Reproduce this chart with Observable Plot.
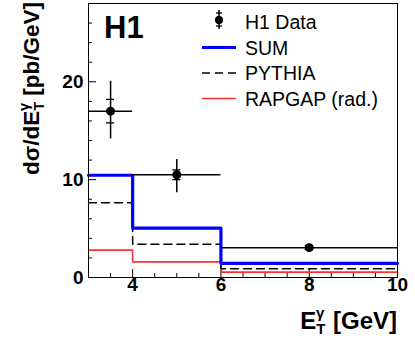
<!DOCTYPE html>
<html><head><meta charset="utf-8">
<script src="https://cdn.jsdelivr.net/npm/d3@7"></script>
<script src="https://cdn.jsdelivr.net/npm/@observablehq/plot@0.6"></script>
<style>
body{margin:0;background:#fff;}
#chart{width:415px;height:340px;}
</style></head><body><div id="chart"></div>
<script>
// ---- data ----
const binEdges = [3, 4, 6, 10];
const dataX = [3.5, 5, 8];
const dataXlo = [3, 4, 6];
const dataXhi = [4, 6, 10];
const dataY = [17.0, 10.5, 3.05];
const statErr = [1.2, 0.5, 0.2];
const totErrUp = [3.05, 1.55, 0.35];
const totErrDown = [2.85, 1.85, 0.35];
const sumVals = [10.45, 5.05, 1.45];
const pythiaVals = [7.65, 3.4, 0.9];
const rapgapVals = [2.8, 1.6, 0.55];
const yMajorTicks = [0, 10, 20];
const yMinorTicks = [2, 4, 6, 8, 12, 14, 16, 18, 22, 24, 26];
const xMajorTicks = [4, 6, 8, 10];
const xMinorTicks = [3.5, 4.5, 5, 5.5, 6.5, 7, 7.5, 8.5, 9, 9.5];
const legendLabels = ["H1 Data", "SUM", "PYTHIA", "RAPGAP (rad.)"];

const points = dataX.map((x, i) => ({x, y: dataY[i], xlo: dataXlo[i], xhi: dataXhi[i],
  stat: statErr[i], up: totErrUp[i], dn: totErrDown[i]}));
const steps = vals => binEdges.map((e, i) => ({x: e, y: vals[Math.min(i, vals.length - 1)]}));

const FONT = '"Liberation Sans", Arial, Helvetica, sans-serif';
const W = 415, H = 340, ML = 88, MR = 18, MT = 3, MB = 63;
const PW = W - ML - MR, PH = H - MT - MB;

const plot = Plot.plot({
  width: W, height: H,
  marginLeft: ML, marginRight: MR, marginTop: MT, marginBottom: MB,
  x: {domain: [3, 10], axis: null},
  y: {domain: [0, 28], axis: null},
  style: {fontFamily: FONT, color: "black", background: "white"},
  marks: [
    Plot.tickY(yMinorTicks, {y: d => d, insetRight: PW - 4, stroke: "black", strokeWidth: 1}),
    Plot.tickY(yMajorTicks, {y: d => d, insetRight: PW - 8, stroke: "black", strokeWidth: 1}),
    Plot.tickX(xMinorTicks, {x: d => d, insetTop: PH - 4, stroke: "black", strokeWidth: 1}),
    Plot.tickX(xMajorTicks, {x: d => d, insetTop: PH - 8, stroke: "black", strokeWidth: 1}),
    Plot.text(yMajorTicks, {y: d => d, text: d => String(d), frameAnchor: "left", dx: -5, textAnchor: "end",
      fontSize: 19, fontWeight: "bold", fill: "black"}),
    Plot.text(xMajorTicks, {x: d => d, text: d => String(d), frameAnchor: "bottom", dy: 13,
      fontSize: 19, fontWeight: "bold", fill: "black"}),
    Plot.line(steps(rapgapVals), {x: "x", y: "y", curve: "step-after", stroke: "#ff3030", strokeWidth: 1.6}),
    Plot.line(steps(pythiaVals), {x: "x", y: "y", curve: "step-after", stroke: "black", strokeWidth: 1.5, strokeDasharray: "8,5"}),
    Plot.line(steps(sumVals), {x: "x", y: "y", curve: "step-after", stroke: "#0000ff", strokeWidth: 3.2}),
    Plot.ruleY(points, {x1: "xlo", x2: "xhi", y: "y", stroke: "black", strokeWidth: 1.5}),
    Plot.ruleX(points, {x: "x", y1: d => d.y - d.dn, y2: d => d.y + d.up, stroke: "black", strokeWidth: 1.5}),
    Plot.ruleY(points, {x1: d => d.x - 0.09, x2: d => d.x + 0.09, y: d => d.y + d.stat, stroke: "black", strokeWidth: 1.3}),
    Plot.ruleY(points, {x1: d => d.x - 0.09, x2: d => d.x + 0.09, y: d => d.y - d.stat, stroke: "black", strokeWidth: 1.3}),
    Plot.dot(points, {x: "x", y: "y", r: 4.5, fill: "black", stroke: "none"}),
    Plot.frame({stroke: "black", strokeWidth: 1})
  ]
});
document.getElementById("chart").appendChild(plot);

const svg = d3.select(plot);
// H1 logo
svg.append("text").attr("x", 104).attr("y", 38).attr("font-family", FONT).attr("text-anchor", "start")
  .attr("font-size", 31).attr("font-weight", "bold").attr("fill", "black").text("H1");

// legend
const lg = svg.append("g").attr("font-family", FONT).attr("font-size", 19.5).attr("font-weight", "normal")
  .attr("fill", "black").attr("text-anchor", "start");
const rowY = [22, 47.5, 73, 98.5];
legendLabels.forEach((lab, i) => {
  lg.append("text").attr("x", 245).attr("y", rowY[i]).attr("dy", "0.36em").attr("text-anchor", "start").text(lab);
});
lg.append("line").attr("x1", 219).attr("x2", 219).attr("y1", rowY[0] - 12).attr("y2", rowY[0] + 7).attr("stroke", "black").attr("stroke-width", 1.5);
lg.append("line").attr("x1", 216).attr("x2", 222).attr("y1", rowY[0] - 9).attr("y2", rowY[0] - 9).attr("stroke", "black").attr("stroke-width", 1.3);
lg.append("line").attr("x1", 216).attr("x2", 222).attr("y1", rowY[0] + 4).attr("y2", rowY[0] + 4).attr("stroke", "black").attr("stroke-width", 1.3);
lg.append("circle").attr("cx", 219).attr("cy", rowY[0] - 2).attr("r", 4.2).attr("fill", "black");
lg.append("line").attr("x1", 202).attr("x2", 236).attr("y1", rowY[1]).attr("y2", rowY[1]).attr("stroke", "#0000ff").attr("stroke-width", 3.2);
lg.append("line").attr("x1", 202).attr("x2", 236).attr("y1", rowY[2]).attr("y2", rowY[2]).attr("stroke", "black").attr("stroke-width", 1.5).attr("stroke-dasharray", "8,5");
lg.append("line").attr("x1", 202).attr("x2", 236).attr("y1", rowY[3]).attr("y2", rowY[3]).attr("stroke", "#ff3030").attr("stroke-width", 1.6);

// y axis title
const yt = svg.append("text").attr("font-family", FONT).attr("font-size", 22.5).attr("font-weight", "bold").attr("fill", "black")
  .attr("text-anchor", "start").attr("transform", "translate(39,175) rotate(-90)");
yt.append("tspan").text("dσ/dE");
yt.append("tspan").attr("font-size", 14.5).attr("dy", 5).text("T");
yt.append("tspan").attr("font-size", 14.5).attr("dx", -9).attr("dy", -15.5).text("γ");
yt.append("tspan").attr("dy", 10.5).attr("dx", 1).text(" [pb/GeV]");

// x axis title
const xt = svg.append("text").attr("font-family", FONT).attr("font-size", 24).attr("font-weight", "bold").attr("fill", "black")
  .attr("text-anchor", "end").attr("transform", "translate(397,329)");
xt.append("tspan").text("E");
xt.append("tspan").attr("font-size", 15).attr("dy", 5).text("T");
xt.append("tspan").attr("font-size", 15).attr("dx", -9.5).attr("dy", -16).text("γ");
xt.append("tspan").attr("dy", 11).attr("dx", 2).text(" [GeV]");
</script></body></html>
